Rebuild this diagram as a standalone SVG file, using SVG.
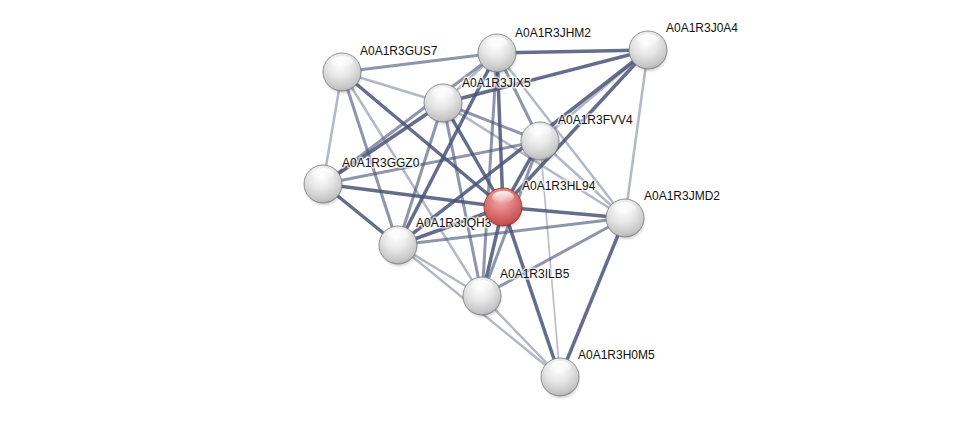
<svg xmlns="http://www.w3.org/2000/svg" width="976" height="422" viewBox="0 0 976 422">
<defs>
<radialGradient id="gw" cx="0.45" cy="0.3" r="0.75">
<stop offset="0" stop-color="#ffffff"/>
<stop offset="0.45" stop-color="#e6e6e6"/>
<stop offset="0.85" stop-color="#c4c4c4"/>
<stop offset="1" stop-color="#9a9a9a"/>
</radialGradient>
<radialGradient id="gr" cx="0.45" cy="0.3" r="0.75">
<stop offset="0" stop-color="#f4b0b0"/>
<stop offset="0.45" stop-color="#e07a7a"/>
<stop offset="0.85" stop-color="#c85252"/>
<stop offset="1" stop-color="#a23a3a"/>
</radialGradient>
<linearGradient id="hl" x1="0" y1="0" x2="0" y2="1">
<stop offset="0" stop-color="#ffffff" stop-opacity="0.95"/>
<stop offset="1" stop-color="#ffffff" stop-opacity="0"/>
</linearGradient>
<radialGradient id="sh" cx="0.5" cy="0.5" r="0.5">
<stop offset="0.6" stop-color="#000" stop-opacity="0.35"/>
<stop offset="1" stop-color="#000" stop-opacity="0"/>
</radialGradient>
</defs>
<style>
.e{stroke:#4a5478;fill:none;stroke-linecap:butt}
.t{stroke-width:3.5;stroke-opacity:0.85}
.m{stroke-width:3;stroke-opacity:0.62}
.l{stroke-width:2.5;stroke-opacity:0.42}
.x{stroke-width:1.6;stroke-opacity:0.4}
.ball{stroke:#777;stroke-width:0.8}
.lab{font-family:"Liberation Sans",Arial,sans-serif;font-size:12px;fill:#111;stroke:#fff;stroke-width:3;stroke-opacity:0.7;paint-order:stroke;stroke-linejoin:round}
</style>
<rect width="976" height="422" fill="#ffffff"/>
<g id="edges">
<line class="e m" x1="342" y1="72" x2="497" y2="53"/>
<line class="e l" x1="342" y1="72" x2="443" y2="103"/>
<line class="e l" x1="342" y1="72" x2="323" y2="184"/>
<line class="e t" x1="342" y1="72" x2="503" y2="207"/>
<line class="e m" x1="342" y1="72" x2="398" y2="245"/>
<line class="e l" x1="342" y1="72" x2="482" y2="296"/>
<line class="e t" x1="497" y1="53" x2="648" y2="50"/>
<line class="e l" x1="497" y1="53" x2="443" y2="103"/>
<line class="e m" x1="497" y1="53" x2="323" y2="184"/>
<line class="e t" x1="497" y1="53" x2="398" y2="245"/>
<line class="e t" x1="497" y1="53" x2="503" y2="207"/>
<line class="e m" x1="497" y1="53" x2="482" y2="296"/>
<line class="e m" x1="497" y1="53" x2="540" y2="141"/>
<line class="e l" x1="497" y1="53" x2="625" y2="218"/>
<line class="e t" x1="648" y1="50" x2="443" y2="103"/>
<line class="e l" x1="648" y1="50" x2="540" y2="141"/>
<line class="e t" x1="648" y1="50" x2="503" y2="207"/>
<line class="e t" x1="648" y1="50" x2="398" y2="245"/>
<line class="e l" x1="648" y1="50" x2="625" y2="218"/>
<line class="e t" x1="443" y1="103" x2="323" y2="184"/>
<line class="e m" x1="443" y1="103" x2="398" y2="245"/>
<line class="e t" x1="443" y1="103" x2="503" y2="207"/>
<line class="e m" x1="443" y1="103" x2="482" y2="296"/>
<line class="e m" x1="443" y1="103" x2="540" y2="141"/>
<line class="e l" x1="443" y1="103" x2="625" y2="218"/>
<line class="e m" x1="540" y1="141" x2="323" y2="184"/>
<line class="e t" x1="540" y1="141" x2="503" y2="207"/>
<line class="e m" x1="540" y1="141" x2="482" y2="296"/>
<line class="e l" x1="540" y1="141" x2="625" y2="218"/>
<line class="e x" x1="540" y1="141" x2="560" y2="377"/>
<line class="e t" x1="323" y1="184" x2="503" y2="207"/>
<line class="e t" x1="323" y1="184" x2="398" y2="245"/>
<line class="e t" x1="503" y1="207" x2="625" y2="218"/>
<line class="e t" x1="503" y1="207" x2="398" y2="245"/>
<line class="e t" x1="503" y1="207" x2="482" y2="296"/>
<line class="e t" x1="503" y1="207" x2="560" y2="377"/>
<line class="e t" x1="625" y1="218" x2="560" y2="377"/>
<line class="e m" x1="625" y1="218" x2="398" y2="245"/>
<line class="e m" x1="625" y1="218" x2="482" y2="296"/>
<line class="e l" x1="398" y1="245" x2="482" y2="296"/>
<line class="e l" x1="398" y1="245" x2="560" y2="377"/>
<line class="e l" x1="482" y1="296" x2="560" y2="377"/>
</g>
<g id="n_GUS7">
<circle cx="343" cy="75" r="20" fill="url(#sh)"/>
<circle class="ball" cx="342" cy="72" r="19" fill="url(#gw)"/>
<ellipse cx="342" cy="62" rx="11" ry="6" fill="url(#hl)"/>
<text class="lab" x="360" y="55">A0A1R3GUS7</text>
</g>
<g id="n_JHM2">
<circle cx="498" cy="56" r="20" fill="url(#sh)"/>
<circle class="ball" cx="497" cy="53" r="19" fill="url(#gw)"/>
<ellipse cx="497" cy="43" rx="11" ry="6" fill="url(#hl)"/>
<text class="lab" x="515" y="37">A0A1R3JHM2</text>
</g>
<g id="n_J0A4">
<circle cx="649" cy="53" r="20" fill="url(#sh)"/>
<circle class="ball" cx="648" cy="50" r="19" fill="url(#gw)"/>
<ellipse cx="648" cy="40" rx="11" ry="6" fill="url(#hl)"/>
<text class="lab" x="666" y="32">A0A1R3J0A4</text>
</g>
<g id="n_JIX5">
<circle cx="444" cy="106" r="20" fill="url(#sh)"/>
<circle class="ball" cx="443" cy="103" r="19" fill="url(#gw)"/>
<ellipse cx="443" cy="93" rx="11" ry="6" fill="url(#hl)"/>
<text class="lab" x="462" y="87">A0A1R3JIX5</text>
</g>
<g id="n_FVV4">
<circle cx="541" cy="144" r="20" fill="url(#sh)"/>
<circle class="ball" cx="540" cy="141" r="19" fill="url(#gw)"/>
<ellipse cx="540" cy="131" rx="11" ry="6" fill="url(#hl)"/>
<text class="lab" x="558" y="124">A0A1R3FVV4</text>
</g>
<g id="n_GGZ0">
<circle cx="324" cy="187" r="20" fill="url(#sh)"/>
<circle class="ball" cx="323" cy="184" r="19" fill="url(#gw)"/>
<ellipse cx="323" cy="174" rx="11" ry="6" fill="url(#hl)"/>
<text class="lab" x="342" y="167">A0A1R3GGZ0</text>
</g>
<g id="n_JMD2">
<circle cx="626" cy="221" r="20" fill="url(#sh)"/>
<circle class="ball" cx="625" cy="218" r="19" fill="url(#gw)"/>
<ellipse cx="625" cy="208" rx="11" ry="6" fill="url(#hl)"/>
<text class="lab" x="644" y="200">A0A1R3JMD2</text>
</g>
<g id="n_JQH3">
<circle cx="399" cy="248" r="20" fill="url(#sh)"/>
<circle class="ball" cx="398" cy="245" r="19" fill="url(#gw)"/>
<ellipse cx="398" cy="235" rx="11" ry="6" fill="url(#hl)"/>
<text class="lab" x="416" y="227">A0A1R3JQH3</text>
</g>
<g id="n_HL94">
<circle cx="504" cy="210" r="20" fill="url(#sh)"/>
<circle cx="503" cy="207" r="19" fill="url(#gr)" stroke="#8a3030" stroke-width="0.8"/>
<ellipse cx="503" cy="197" rx="11" ry="6" fill="url(#hl)"/>
<text class="lab" x="522" y="190">A0A1R3HL94</text>
</g>
<g id="n_ILB5">
<circle cx="483" cy="299" r="20" fill="url(#sh)"/>
<circle class="ball" cx="482" cy="296" r="19" fill="url(#gw)"/>
<ellipse cx="482" cy="286" rx="11" ry="6" fill="url(#hl)"/>
<text class="lab" x="500" y="278">A0A1R3ILB5</text>
</g>
<g id="n_H0M5">
<circle cx="561" cy="380" r="20" fill="url(#sh)"/>
<circle class="ball" cx="560" cy="377" r="19" fill="url(#gw)"/>
<ellipse cx="560" cy="367" rx="11" ry="6" fill="url(#hl)"/>
<text class="lab" x="578" y="359">A0A1R3H0M5</text>
</g>
</svg>
